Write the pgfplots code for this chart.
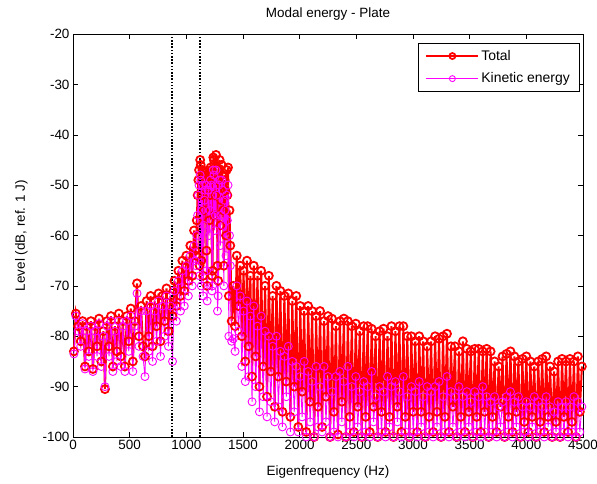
\documentclass[border=0pt]{standalone}
\usepackage{pgfplots}
\pgfplotsset{compat=1.18}
\usepackage{pgfplotstable}
\usepackage{fontspec}
\setmainfont{Liberation Sans}
\definecolor{mred}{rgb}{1,0,0}
\definecolor{mmag}{rgb}{1,0,1}
\pgfplotstableread{
f T K
8 -83 -83.5
25 -75.5 -76
45 -78 -79
68 -81 -82
85 -77 -77.5
106 -86 -86.5
122 -78 -79
140 -83 -84
158 -77 -78
176 -86.5 -87
195 -78 -79
212 -82 -84
230 -76.5 -77.5
250 -85 -86
268 -79 -80
282 -90.5 -90
300 -77 -78
318 -82 -84
335 -76 -77
352 -86 -87
370 -78 -79
388 -83 -85
405 -75.5 -77
422 -84 -86
440 -77 -78
458 -86 -87
475 -76 -77
492 -81 -83
510 -74.5 -76
528 -85 -87
545 -77 -78
565 -69.5 -71.5
582 -80 -82
600 -74 -75
618 -82 -84
635 -84 -88
650 -73 -75
668 -80 -83
685 -72 -74
702 -82 -85
720 -73 -75
738 -78 -81
755 -71.5 -73
772 -81 -84
790 -72 -74
808 -77 -80
825 -70.5 -72
842 -79 -82
860 -72 -74
878 -76 -85
895 -69 -71
912 -74 -77
930 -67 -69
948 -72 -75
965 -65 -67
982 -71 -74
1000 -64 -66
1018 -69 -72
1035 -62 -64
1052 -68 -70
1068 -59 -62
1078 -63 -65
1085 -64 -66
1092 -57 -60
1100 -52 -56
1106 -49 -52
1112 -47 -50
1117 -66 -68
1122 -45 -48
1127 -46 -49
1132 -65 -70
1137 -52 -55
1142 -47 -50
1148 -68 -72
1155 -55 -58
1160 -50 -53
1165 -48 -51
1172 -47.5 -50
1178 -63 -67
1184 -70 -73
1190 -48 -51
1196 -48.5 -51
1202 -57 -60
1208 -52 -55
1214 -46.5 -49
1220 -47 -50
1226 -68 -71
1232 -67 -70
1238 -44.5 -47
1244 -45 -48
1250 -56 -59
1256 -52 -56
1262 -44 -47
1268 -49 -52
1275 -66 -75
1281 -69 -72
1288 -47 -50
1294 -45 -49
1300 -58 -62
1306 -53 -56
1312 -46 -49
1318 -48 -51
1325 -55 -58
1331 -66 -70
1338 -49 -53
1344 -51 -55
1350 -60 -64
1356 -47 -52
1362 -52 -57
1368 -46.5 -50
1375 -72 -80
1381 -55 -60
1388 -62 -66
1400 -77 -81
1415 -70 -80.5
1430 -78 -83
1445 -64 -70
1460 -74 -79
1475 -66 -72
1490 -80 -86
1505 -67 -75
1520 -85 -89
1535 -65 -73
1550 -82 -88
1565 -68 -76
1580 -88 -93
1595 -66 -74
1612 -84 -90
1628 -68 -78
1645 -90 -95
1660 -67 -76
1678 -86 -92
1695 -70 -79
1712 -92 -96
1728 -68 -80
1745 -87 -93
1762 -72 -82
1780 -94 -97
1795 -70 -80
1812 -88 -94
1830 -71 -83
1848 -95 -98
1865 -72 -84
1882 -89 -92
1900 -71.5 -82
1918 -96 -99
1935 -73 -85
1952 -90 -95
1970 -72 -86
1988 -98 -99
2005 -74 -88
2022 -91 -96
2040 -75 -85
2058 -99 -100
2075 -74 -87
2092 -93 -97
2110 -75 -89
2128 -100 -100
2145 -76 -86
2162 -94 -98
2180 -75 -90
2198 -98 -99
2215 -77 -86
2232 -92 -97
2250 -76 -88
2268 -100 -100
2285 -76.5 -91
2302 -95 -99
2320 -78 -88
2338 -99.5 -100
2355 -77 -87
2372 -93 -97
2390 -76.5 -89
2408 -100 -100
2425 -77 -86
2442 -96 -99
2460 -78 -90
2478 -99 -100
2495 -77.5 -88
2512 -94 -98
2530 -79 -91
2548 -100 -100
2565 -78 -89
2582 -96 -99
2600 -78 -90
2618 -99 -100
2635 -78.5 -87
2652 -94 -97
2670 -80 -92
2688 -100 -100
2705 -79 -90
2722 -95 -99
2740 -78.5 -91
2758 -99 -100
2775 -80 -88
2792 -96 -98
2810 -78 -90
2828 -100 -100
2845 -79 -89
2862 -94 -97
2880 -78 -91
2898 -99 -100
2915 -78 -88
2932 -96 -99
2950 -80 -92
2968 -100 -100
2985 -80 -90
3002 -95 -99
3020 -81 -91
3038 -99 -100
3055 -80 -89
3072 -95 -98
3090 -81 -92
3108 -100 -100
3125 -82 -90
3142 -96 -99
3160 -81 -91
3178 -99 -100
3195 -80 -90
3212 -95 -98
3230 -80.5 -89
3248 -100 -100
3265 -80 -92
3282 -96 -99
3300 -79.5 -88
3318 -99 -100
3335 -82 -91
3352 -94 -98
3370 -82 -92
3388 -100 -100
3405 -83 -90
3422 -96 -99
3440 -81 -92
3458 -99 -100
3475 -82.5 -91
3492 -95 -98
3510 -83 -93
3528 -100 -100
3545 -82.5 -91
3562 -96 -99
3580 -82.5 -92
3598 -99 -100
3615 -83 -90
3632 -95 -99
3650 -82.5 -92
3668 -100 -100
3685 -83 -93
3702 -96 -99
3720 -85 -92
3738 -99 -100
3755 -86 -94
3772 -94 -98
3790 -84 -93
3808 -100 -100
3825 -83.5 -92
3842 -96 -99
3860 -83 -91
3878 -99 -100
3895 -84 -93
3912 -95 -98
3930 -85 -92
3948 -100 -100
3965 -84.5 -94
3982 -97 -99
4000 -84 -93
4018 -99 -100
4035 -85 -94
4052 -96 -98
4070 -86 -92
4088 -100 -100
4105 -85 -93
4122 -97 -99
4140 -84.5 -94
4158 -99 -100
4175 -84 -92
4192 -96 -98
4210 -86 -94
4228 -100 -100
4245 -87 -95
4262 -97 -99
4280 -85 -93
4298 -100 -100
4315 -84.5 -94
4332 -96 -99
4350 -85 -93
4368 -99 -100
4385 -84.5 -94
4402 -97 -99
4420 -85 -92
4438 -100 -100
4455 -84 -93
4472 -95 -99
4490 -86 -94
}\modes
\begin{document}
\begin{tikzpicture}
\path[use as bounding box] (-73bp,-47bp) rectangle (524bp,437bp);
\begin{axis}[
  at={(0,0)}, anchor=south west,
  scale only axis, width=510bp, height=403bp,
  xmin=0, xmax=4500, ymin=-100, ymax=-20,
  xtick={0,500,...,4500}, ytick={-100,-90,...,-20},
  scaled x ticks=false,
  /pgf/number format/assume math mode=true,
  /pgf/number format/1000 sep={},
  tick align=inside, major tick length=5bp,
  tick style={black, line width=0.5pt},
  axis line style={black, line width=0.6pt},
  font=\fontsize{13.5}{15}\selectfont,
  title={Modal energy - Plate},
  title style={yshift=4bp},
  xlabel={Eigenfrequency (Hz)},
  ylabel={Level (dB, ref. 1 J)},
  xlabel style={yshift=-9bp},
  ylabel style={yshift=8bp},
  legend style={at={(1,1)}, anchor=north east, xshift=-4bp, yshift=-9bp,
    draw=black, line width=0.5pt, font=\fontsize{14}{16}\selectfont,
    inner xsep=7bp, inner ysep=5bp, row sep=7bp, cells={anchor=west}},
  legend image code/.code={\draw[mark repeat=2, mark phase=2, mark size=3bp] plot coordinates {(0bp,0bp) (26bp,0bp) (52bp,0bp)};},
]
\addplot[mred, line width=2pt, mark=o, mark size=4bp, mark options={line width=1.8pt}] table[x=f, y=T] {\modes};
\addlegendentry{Total}
\addplot[mmag, line width=0.9pt, mark=o, mark size=4bp, mark options={line width=0.9pt}] table[x=f, y=K] {\modes};
\addlegendentry{Kinetic energy}
\addplot[black, line width=1.8pt, dash pattern=on 1.6pt off 1.6pt, forget plot] coordinates {(876,-100) (876,-20)};
\addplot[black, line width=1.8pt, dash pattern=on 1.6pt off 1.6pt, forget plot] coordinates {(1124,-100) (1124,-20)};
\end{axis}
\end{tikzpicture}
\end{document}
